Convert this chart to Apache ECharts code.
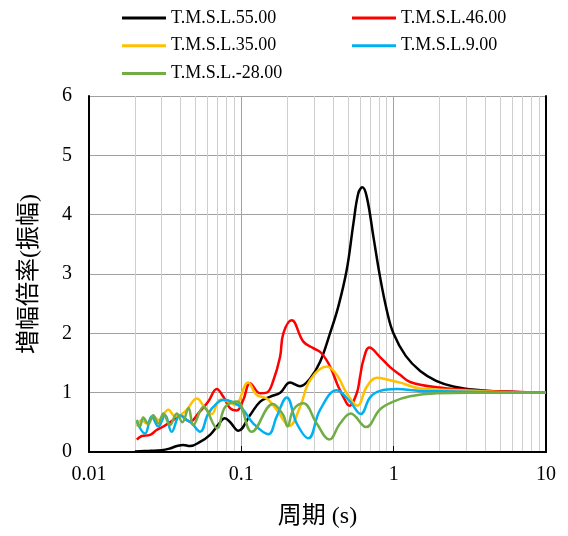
<!DOCTYPE html>
<html>
<head>
<meta charset="utf-8">
<script src="https://cdn.jsdelivr.net/npm/echarts@6/dist/echarts.min.js"></script>
<style>html,body{margin:0;padding:0;background:#fff;}#c{width:568px;height:536px;}</style>
</head>
<body>
<div id="c"></div>
<script>
const seriesNames = ['T.M.S.L.55.00','T.M.S.L.46.00','T.M.S.L.35.00','T.M.S.L.9.00','T.M.S.L.-28.00'];
const xTickLabels = ['0.01','0.1','1','10'];
const yTickLabels = ['0','1','2','3','4','5','6'];

const t55 = [0.02,0.025,0.03,0.034,0.0377,0.0416,0.046,0.0536,0.0623,0.0706,0.078,0.084,0.0956,0.114,0.133,0.154,0.18,0.209,0.243,0.283,0.329,0.382,0.433,0.492,0.544,0.586,0.623,0.666,0.736,0.814,0.901,0.996,1.2,1.5,1.9,2.5,3.7,5,10];
const v55 = [0.01,0.02,0.03,0.06,0.10,0.12,0.10,0.17,0.29,0.46,0.57,0.51,0.36,0.62,0.85,0.93,1.0,1.17,1.11,1.24,1.52,2.0,2.45,3.07,3.85,4.36,4.46,4.30,3.63,2.95,2.39,2.0,1.62,1.36,1.2,1.1,1.04,1.02,1.0];

const t46 = [0.0206,0.0222,0.0252,0.0278,0.0308,0.0358,0.0396,0.0438,0.046,0.0522,0.0607,0.069,0.0762,0.0843,0.0933,0.1031,0.114,0.1327,0.1468,0.162,0.1795,0.1887,0.2142,0.2553,0.297,0.3372,0.3822,0.4334,0.4921,0.5118,0.5723,0.60,0.6325,0.6926,0.8142,0.947,1.102,1.281,1.919,3.174,5,10];
const v46 = [0.21,0.27,0.29,0.37,0.43,0.54,0.62,0.54,0.51,0.65,0.85,1.06,0.93,0.74,0.70,0.88,1.16,0.99,1.0,1.2,1.6,2.0,2.22,1.86,1.75,1.66,1.44,1.10,0.82,0.78,0.99,1.25,1.55,1.76,1.60,1.43,1.30,1.18,1.09,1.045,1.02,1.0];

const t35 = [0.0206,0.0222,0.0239,0.0264,0.0285,0.0332,0.0367,0.0396,0.0438,0.051,0.0578,0.0639,0.0725,0.0822,0.0909,0.1107,0.1262,0.1468,0.1708,0.2067,0.2429,0.2826,0.3637,0.423,0.4921,0.5776,0.666,0.7745,0.947,1.102,1.491,2.466,5,10];
const v35 = [0.43,0.54,0.48,0.60,0.54,0.71,0.60,0.62,0.71,0.90,0.74,0.64,0.88,0.85,0.79,1.17,0.96,0.90,0.71,0.44,0.76,1.21,1.44,1.30,0.99,0.78,1.10,1.25,1.21,1.17,1.07,1.045,1.01,1.0];

const t9 = [0.0206,0.0233,0.0258,0.0285,0.0316,0.0349,0.0396,0.0433,0.0473,0.0536,0.0607,0.069,0.0762,0.0865,0.1006,0.1199,0.1504,0.1708,0.1987,0.2311,0.2754,0.3286,0.423,0.5172,0.6081,0.70,0.8142,1.048,1.491,2.466,5,10];
const v9 = [0.51,0.31,0.60,0.43,0.62,0.34,0.62,0.55,0.48,0.34,0.65,0.82,0.88,0.85,0.74,0.48,0.30,0.60,0.92,0.48,0.23,0.71,1.04,0.85,0.64,0.92,1.03,1.06,1.03,1.02,1.005,1.0];

const tm28 = [0.0206,0.0216,0.0227,0.0245,0.0264,0.0285,0.0308,0.034,0.0377,0.041,0.045,0.0484,0.0563,0.0692,0.0782,0.0938,0.117,0.161,0.1887,0.201,0.2195,0.2553,0.3127,0.3782,0.4447,0.5228,0.659,0.8142,0.9955,1.281,1.919,3.174,10];
const vm28 = [0.54,0.43,0.58,0.47,0.62,0.48,0.65,0.455,0.65,0.50,0.74,0.455,0.76,0.40,0.76,0.85,0.34,0.81,0.62,0.43,0.71,0.82,0.48,0.21,0.48,0.65,0.42,0.72,0.85,0.94,0.99,1.0,1.0];

const colors = ['#000000','#FF0000','#FFC000','#00B0F0','#70AD47'];
const xs = [t55,t46,t35,t9,tm28];
const ys = [v55,v46,v35,v9,vm28];

const serif = "'Liberation Serif', 'Times New Roman', serif";
const cjk = "'Liberation Serif', 'Noto Sans CJK JP', sans-serif";

const chart = echarts.init(document.getElementById('c'), null, {renderer:'canvas'});
const series = seriesNames.map((n,i)=>({
  name:n, type:'line', symbol:'none', smooth:0.4,
  data: xs[i].map((t,j)=>[t, ys[i][j]]),
  lineStyle:{color:colors[i], width:2.5},
  itemStyle:{color:colors[i]},
  z: 2+i
}));
const legendBase = {orient:'vertical', icon:'rect', itemWidth:44, itemHeight:3, itemGap:9.7, top:9, padding:0,
  textStyle:{fontFamily:serif, fontSize:18, color:'#000'}};
chart.setOption({
  animation:false,
  backgroundColor:'#fff',
  grid:{left:89, right:22, top:96, bottom:84, containLabel:false, outerBoundsMode:'none'},
  legend:[
    Object.assign({}, legendBase, {left:122, data:[seriesNames[0], seriesNames[2], seriesNames[4]]}),
    Object.assign({}, legendBase, {left:352, data:[seriesNames[1], seriesNames[3]]})
  ],
  xAxis:{type:'log', logBase:10, min:0.01, max:10,
    name:'周期 (s)', nameLocation:'middle', nameGap:53,
    nameTextStyle:{fontFamily:cjk, fontSize:24, color:'#000'},
    axisLine:{show:true, onZero:false, lineStyle:{color:'#000', width:2}},
    axisTick:{show:true, inside:true, length:6, lineStyle:{color:'#000', width:1}},
    axisLabel:{fontFamily:serif, fontSize:20, color:'#000', margin:13,
      formatter:(v)=>{const s=String(+(+v).toPrecision(3)); return xTickLabels.includes(s)?s:'';}},
    splitLine:{show:true, lineStyle:{color:'#a0a0a0', width:1}},
    minorTick:{show:false, splitNumber:9},
    minorSplitLine:{show:true, lineStyle:{color:'#cfcfcf', width:1}}
  },
  yAxis:[{type:'value', min:0, max:6, interval:1,
    name:'増幅倍率(振幅)', nameLocation:'middle', nameGap:47, nameRotate:90,
    nameTextStyle:{fontFamily:cjk, fontSize:24, color:'#000'},
    axisLine:{show:true, lineStyle:{color:'#000', width:2}},
    axisTick:{show:false},
    axisLabel:{fontFamily:serif, fontSize:20, color:'#000', margin:17,
      formatter:(v)=>yTickLabels[Math.round(v)]},
    splitLine:{show:true, lineStyle:{color:'#a0a0a0', width:1}}
  },{type:'value', position:'right', min:0, max:6, interval:1,
    axisLine:{show:true, lineStyle:{color:'#000', width:2}},
    axisTick:{show:false}, axisLabel:{show:false}, splitLine:{show:false}
  }],
  series: series
});
</script>
</body>
</html>
